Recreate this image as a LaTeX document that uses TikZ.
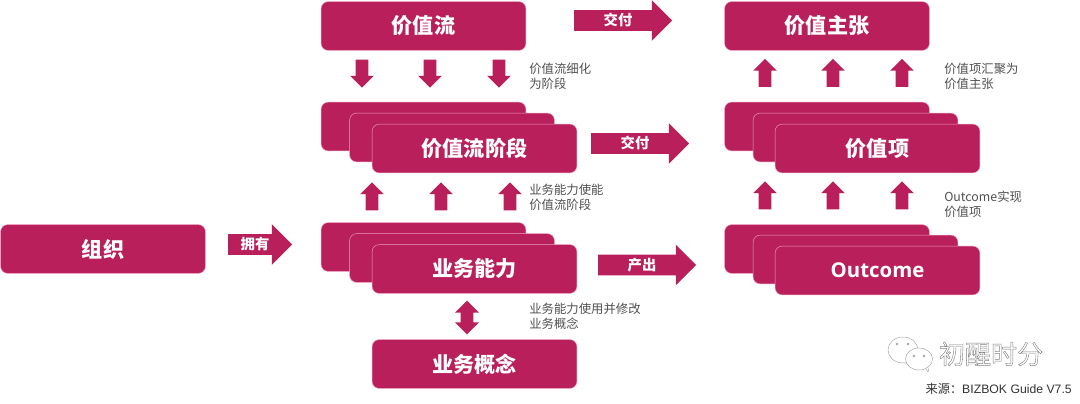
\documentclass[tikz,border=0pt]{standalone}
\usepackage{fontspec}
\setmainfont{Liberation Sans}
\newfontfamily\cjk{Noto Sans CJK SC}
\newfontfamily\outfont{Open Sans}
\usetikzlibrary{shapes.arrows}
\definecolor{rose}{HTML}{B9205B}
\definecolor{roseline}{HTML}{EE9DBD}
\definecolor{note}{HTML}{505050}
\begin{document}
\begin{tikzpicture}[x=0.025cm, y=-0.025cm,
  box/.style={fill=rose, draw=roseline, line width=0.3pt, rounded corners=0.18cm, minimum width=5.12cm, minimum height=1.22cm, inner sep=0pt, text=white, font=\cjk\bfseries\fontsize{15}{16}\selectfont},
  block/.style={single arrow, fill=rose, inner sep=0pt, text height=0.375cm, text depth=0.125cm, single arrow head extend=0.25cm, minimum width=0.98cm, minimum height=2.45cm, text=white, font=\cjk\bfseries\fontsize{10.2}{11}\selectfont},
  down/.style={single arrow, fill=rose, inner sep=0pt, text width=0.3cm, shape border rotate=270, single arrow head extend=0.14cm, minimum width=0.58cm, minimum height=0.7cm, single arrow head indent=0pt},
  up/.style={down, shape border rotate=90},
  both/.style={double arrow, fill=rose, inner sep=0pt, text width=0.3cm, shape border rotate=90, double arrow head extend=0.14cm, minimum width=0.58cm, minimum height=0.84cm},
  note/.style={anchor=west, align=left, inner sep=0pt, text=note, font=\cjk\fontsize{8.8}{10.4}\selectfont}]
\useasboundingbox (0,0) rectangle (1080,403);
% left column
\node[box] (B_0_0) at (103,249) {组织};
\node[block, minimum width=0.98cm, minimum height=1.6cm] (A_0_0) at (255,244.5) {拥有};
% value stream column
\node[box] (B_1_0) at (423.5,26) {价值流};
\node[box] (B_1_1a) at (423.5,126.5) {};
\node[box] (B_1_1b) at (452,137.5) {};
\node[box] (B_1_1) at (474.5,148.5) {价值流阶段};
\node[box] (B_1_2a) at (423.5,247) {};
\node[box] (B_1_2b) at (452,258) {};
\node[box] (B_1_2) at (474.5,269) {业务能力};
\node[box] (B_1_3) at (474.5,364) {业务概念};
\node[down] (D_0_0) at (362,70.5) {};
\node[down] (D_0_1) at (430,70.5) {};
\node[down] (D_0_2) at (499,70.5) {};
\node[up] (U_0_0) at (372,199.5) {};
\node[up] (U_0_1) at (441,199.5) {};
\node[up] (U_0_2) at (510,199.5) {};
\node[both] (U_0_3) at (467,317.5) {};
% middle arrows
\node[block] (A_1_0) at (618,20.5) {交付};
\node[block] (A_1_1) at (635,143.5) {交付};
\node[block] (A_1_2) at (642,265) {产出};
% value column
\node[box] (B_2_0) at (827,26) {价值主张};
\node[box] (B_2_1a) at (827,126.5) {};
\node[box] (B_2_1b) at (855.5,137.5) {};
\node[box] (B_2_1) at (877.5,148.5) {价值项};
\node[box] (B_2_2a) at (827,249) {};
\node[box] (B_2_2b) at (855.5,259.5) {};
\node[box, font=\outfont\bfseries\fontsize{14.5}{16}\selectfont] (B_2_2) at (877.5,270.5) {Outcome};
\node[up] (U_1_0) at (765,76) {};
\node[up] (U_1_1) at (833,76) {};
\node[up] (U_1_2) at (902,76) {};
\node[up] (U_1_3) at (765,198.5) {};
\node[up] (U_1_4) at (833,198.5) {};
\node[up] (U_1_5) at (902,198.5) {};
% notes
\node[note] (T_0_0) at (529,76.5) {价值流细化\\为阶段};
\node[note] (T_0_1) at (529,197.5) {业务能力使能\\价值流阶段};
\node[note] (T_0_2) at (529,316.5) {业务能力使用并修改\\业务概念};
\node[note] (T_1_0) at (944,76.5) {价值项汇聚为\\价值主张};
\node[note] (T_1_1) at (944,204.5) {Outcome实现\\价值项};
% watermark
\draw[gray!70, fill=white, line width=0.35pt] (903,350) ellipse (15 and 13);
\draw[gray!70, fill=white, line width=0.35pt] (919,359) ellipse (13.5 and 11);
\fill[gray!70] (897,344) circle (1.4);
\fill[gray!70] (908,344) circle (1.4);
\fill[gray!70] (914,356) circle (1.4);
\fill[gray!70] (924,356) circle (1.4);
\draw[gray!70, line width=0.35pt] (926,369) -- (928,372) -- (929,368);
\node[inner sep=0pt, font=\cjk\fontsize{18.5}{20}\selectfont] (W_0_0) at (991,354) {\special{pdf:code 1 Tr 0.3 w 0.5 0.5 0.5 RG}初醒时分};
\node[inner sep=0pt, anchor=east, text=black!80, font=\fontsize{8.7}{10}\selectfont] (W_0_1) at (1072,389) {{\cjk 来源：}BIZBOK Guide V7.5};
\end{tikzpicture}
\end{document}
